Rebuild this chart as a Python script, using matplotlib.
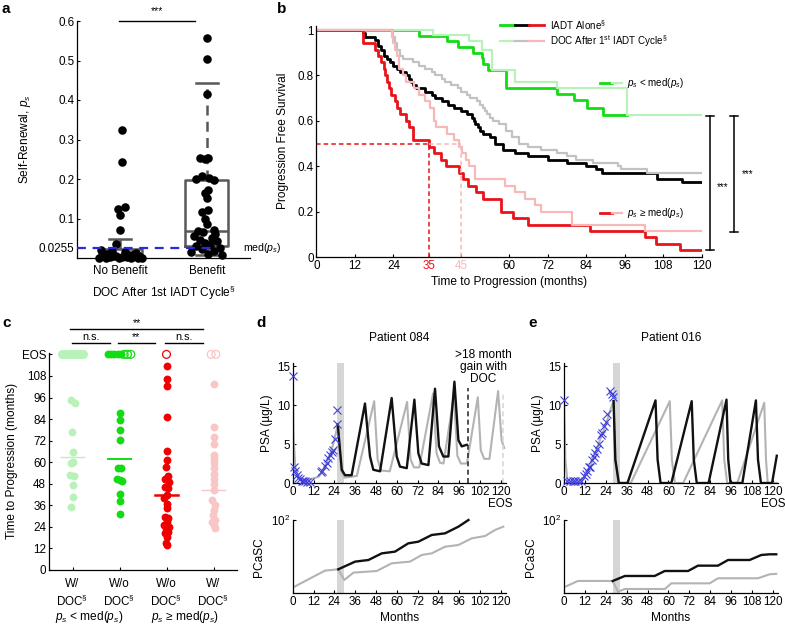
import matplotlib
matplotlib.use('Agg')
import matplotlib.pyplot as plt
import numpy as np

plt.rcParams['font.family'] = ['Liberation Sans', 'DejaVu Sans']
plt.rcParams['font.size'] = 8.6
plt.rcParams['mathtext.fontset'] = 'custom'
plt.rcParams['mathtext.rm'] = 'Liberation Sans'
plt.rcParams['mathtext.it'] = 'Liberation Sans:italic'
plt.rcParams['mathtext.bf'] = 'Liberation Sans:bold'

FS = 8.6   # label font size
TFS = 8.4  # tick font size
LFS = 7.1  # in-plot legend font size

# ---------------- data: panel a ----------------
a_categories = ['No Benefit', 'Benefit']
a_nb_vals = [0.325, 0.243, 0.130, 0.125, 0.108, 0.072, 0.035, 0.020, 0.018, 0.015,
             0.012, 0.010, 0.008, 0.006, 0.005, 0.004, 0.003, 0.003, 0.002, 0.002,
             0.001, 0.001, 0.001, 0.000, 0.000, 0.000, 0.004, 0.006, 0.009]
a_nb_jit = [0.02, 0.02, 0.05, -0.03, 0.00, 0.00, -0.05, -0.22, -0.10, 0.05,
            0.18, -0.15, 0.10, -0.05, 0.22, -0.20, 0.02, 0.14, -0.12, 0.08,
            -0.24, 0.20, -0.02, -0.16, 0.12, 0.25, -0.08, 0.06, 0.16]
a_b_vals = [0.557, 0.503, 0.415, 0.253, 0.252, 0.250, 0.208, 0.202, 0.200, 0.198,
            0.172, 0.165, 0.153, 0.121, 0.116, 0.100, 0.086, 0.072, 0.068, 0.065,
            0.060, 0.055, 0.050, 0.046, 0.042, 0.038, 0.034, 0.030, 0.026, 0.022,
            0.018, 0.014, 0.010, 0.008]
a_b_jit = [0.00, 0.00, 0.00, -0.08, 0.02, -0.02, -0.05, 0.03, -0.12, 0.08,
           0.02, -0.02, 0.00, 0.02, -0.05, -0.02, 0.00, 0.08, -0.10, -0.04,
           0.10, -0.15, 0.06, -0.08, 0.12, -0.02, 0.04, -0.12, 0.15, -0.06,
           0.08, -0.18, 0.02, 0.18]
a_box_whislo = [0.000, 0.008]
a_box_q1 = [0.002, 0.030]
a_box_med = [0.004, 0.068]
a_box_q3 = [0.022, 0.197]
a_box_whishi = [0.048, 0.443]
a_median_ps = 0.0255
a_yticks = [0.0255, 0.1, 0.2, 0.3, 0.4, 0.5, 0.6]
a_yticklabels = ['0.0255', '0.1', '0.2', '0.3', '0.4', '0.5', '0.6']

# ---------------- data: panel b (Kaplan-Meier) ----------------
km_green_t = [0, 32.0, 40.6, 44.2, 48.9, 51.5, 52.0, 53.6, 59.0, 74.9, 80.1, 84.2, 89.4, 96.6]
km_green_s = [1.0, 0.975, 0.950, 0.925, 0.900, 0.875, 0.850, 0.825, 0.743, 0.720, 0.690, 0.655, 0.625, 0.625]
km_lgreen_t = [0, 36.4, 47.5, 51.5, 54.6, 61.9, 74.9, 96.6, 120]
km_lgreen_s = [1.0, 0.977, 0.950, 0.910, 0.822, 0.772, 0.743, 0.625, 0.625]
km_black_t = [0, 14.6, 15.2, 18.3, 19.3, 20, 21, 22, 23, 24, 25, 26, 28, 29, 29.5, 30, 31, 34, 36,
              37, 39, 41, 43, 45, 47, 48.5, 49, 49.5, 50.5, 51, 52, 54, 55.5, 58, 62, 66, 72, 78,
              84, 87, 89, 106, 114, 120]
km_black_s = [1, .986, .971, .957, .929, .914, .886, .871, .857, .843, .829, .814, .800, .786, .771,
              .757, .743, .729, .714, .700, .686, .671, .657, .643, .629, .614, .600, .586, .571,
              .557, .543, .529, .500, .471, .457, .443, .429, .414, .400, .386, .371, .343, .329, .329]
km_gray_t = [0, 24, 24.5, 25, 26, 27, 30, 32, 34, 36, 37, 39, 40, 42, 44, 45, 47, 48, 50, 51, 52,
             52.5, 53, 54, 55, 57, 59, 61, 63, 66, 70, 75, 78, 81, 86, 94, 95, 103, 120]
km_gray_s = [1, .971, .943, .914, .886, .871, .857, .843, .829, .814, .800, .786, .771, .757, .743,
             .729, .714, .700, .686, .671, .657, .643, .629, .614, .600, .586, .557, .529, .500,
             .486, .471, .457, .443, .429, .414, .400, .386, .371, .371]
km_red_t = [0, 14.6, 18.3, 19.3, 20, 21, 21.5, 22, 22.6, 23.3, 24.6, 25.2, 26, 27.8, 28.8, 30,
            30.2, 35, 36.8, 38.8, 40.3, 44.3, 45.6, 47.3, 49.8, 51.8, 57.5, 61.3, 66, 85.2,
            102.3, 105.9, 113.2, 120]
km_red_s = [1, .943, .914, .886, .857, .829, .800, .771, .743, .714, .686, .657, .629, .600, .571,
            .543, .514, .486, .457, .429, .400, .371, .343, .314, .286, .257, .200, .171, .143,
            .114, .086, .057, .029, .029]
km_pink_t = [0, 23.5, 24, 24.5, 25, 25.8, 27, 28, 30.5, 32, 34, 35.5, 36.5, 37.3, 40.8, 43, 44.5,
             45.5, 46.5, 47.5, 49.5, 58.8, 61.9, 65, 68, 70, 79.5, 102.5, 120]
km_pink_s = [1, .971, .943, .914, .886, .829, .800, .771, .743, .714, .686, .657, .600, .571, .543,
             .514, .486, .457, .429, .400, .343, .314, .286, .257, .229, .200, .143, .114, .114]
b_median_red = 35
b_median_pink = 45
b_xticks = [0, 12, 24, 35, 45, 60, 72, 84, 96, 108, 120]
b_yticks = [0, 0.2, 0.4, 0.6, 0.8, 1.0]
b_yticklabels = ['0', '0.2', '0.4', '0.6', '0.8', '1']

# ---------------- data: panel c ----------------
c_eos = 120
c_g1_vals = [94.4, 93.1, 76.9, 65.7, 60.2, 59.6, 52.8, 52.2, 47.2, 40.4, 35.2]
c_g1_jit = [-0.03, 0.05, -0.02, 0.00, 0.02, -0.04, -0.05, 0.03, 0.00, 0.00, -0.03]
c_g1_eos_jit = [-0.22, -0.15, -0.08, -0.02, 0.04, 0.10, 0.16, 0.22]
c_g2_vals = [87.4, 83.3, 77.8, 72.6, 57.0, 56.5, 50.4, 50.0, 49.6, 42.2, 38.5, 30.9]
c_g2_jit = [0.00, 0.00, 0.00, 0.00, -0.03, 0.03, -0.05, 0.00, 0.05, 0.00, 0.00, 0.00]
c_g2_eos_jit_filled = [-0.25, -0.18, -0.11, -0.04, 0.03]
c_g2_eos_jit_open = [0.10, 0.17, 0.24]
c_g3_vals = [113.3, 106.5, 102.2, 85.0, 66.1, 61.1, 57.4, 52.2, 50.9, 49.1, 46.3, 45.4, 41.7,
             40.2, 37.0, 34.3, 29.6, 28.7, 26.9, 25.0, 24.1, 23.1, 21.3, 20.4, 18.5, 14.8, 13.9]
c_g3_jit = [0.00, 0.00, 0.00, 0.00, 0.00, 0.00, -0.02, 0.03, -0.04, 0.05, -0.03, 0.04, 0.00,
            -0.05, 0.02, 0.00, -0.04, 0.04, 0.00, -0.05, 0.05, -0.02, 0.03, -0.04, 0.02, -0.02, 0.02]
c_g3_eos_jit = [0.0]
c_g4_vals = [103.7, 79.6, 74.1, 70.4, 63.9, 62.0, 59.3, 56.5, 53.7, 50.9, 48.1, 44.4, 38.9,
             36.1, 33.3, 30.6, 27.8, 26.9, 25.0, 23.1]
c_g4_jit = [0.00, 0.00, 0.00, 0.00, 0.00, 0.00, 0.00, 0.00, 0.00, 0.00, 0.00, 0.00, -0.03,
            0.03, 0.00, -0.02, 0.03, -0.04, 0.00, 0.04]
c_g4_eos_jit = [-0.05, 0.05]
c_means = [63.1, 62.0, 41.7, 44.4]
c_yticks = [0, 12, 24, 36, 48, 60, 72, 84, 96, 108, 120]
c_yticklabels = ['0', '12', '24', '36', '48', '60', '72', '84', '96', '108', 'EOS']
c_xticklabels = ['W/\nDOC$^{\\S}$', 'W/o\nDOC$^{\\S}$', 'W/o\nDOC$^{\\S}$', 'W/\nDOC$^{\\S}$']

# ---------------- data: panel d (patient 084) ----------------
d_obs_t = [0.4, 1.0, 1.3, 2.3, 3.3, 4.2, 5.2, 6.2, 7.1, 8.1, 10.0, 16.5, 17.0, 18.6, 19.5,
           20.4, 21.3, 22.5, 23.4, 24.2, 25.3, 25.7]
d_obs_psa = [13.7, 2.1, 1.5, 1.0, 0.7, 0.5, 0.3, 0.2, 0.2, 0.15, 0.1, 1.4, 1.6, 2.2, 2.6,
             3.2, 3.6, 4.0, 4.2, 5.7, 7.6, 9.4]
d_pre_t = [0, 0.5, 1.5, 3, 5, 8, 12, 15, 17, 19, 21, 23, 24.5, 26]
d_pre_psa = [13.7, 6.0, 2.0, 0.8, 0.4, 0.35, 0.6, 0.8, 1.4, 2.3, 3.3, 4.7, 6.0, 7.5]
d_iadt_t = [26, 28.3, 30.2, 34, 41.7, 44.6, 46.5, 50.4, 57.1, 60, 61.9, 65.8, 70.2, 72.5, 74.4,
            78.3, 82.1, 84.4, 86.9, 89.8, 93.3, 95.6, 97.5, 100.4]
d_iadt_psa = [7.5, 1.7, 1.0, 1.0, 10.2, 3.4, 1.7, 1.5, 10.9, 3.4, 2.1, 1.9, 10.7, 3.8, 2.5,
              2.3, 12.1, 4.7, 3.4, 3.4, 13.0, 5.5, 4.7, 4.9]
d_doc_t = [26, 28, 30, 37, 47, 49, 51, 56, 66, 68, 70, 73, 81, 83, 85, 87, 93, 95, 97, 100.5,
           106.8, 108.5, 110.5, 113.5, 118.5, 120.5, 122]
d_doc_psa = [7.5, 1.5, 0.7, 0.9, 10.5, 3.0, 1.6, 1.5, 10.4, 3.0, 2.0, 2.0, 11.5, 3.8, 2.6, 2.5,
             11.3, 3.5, 2.5, 2.5, 11.0, 4.2, 3.1, 3.1, 11.8, 5.5, 4.5]
d_doc_window = [25.7, 29.5]
d_end_iadt = 101
d_end_doc = 121.5
d_end_iadt_psa = 12.2
d_end_doc_psa = 11.7
d_sc_doc_t = [0, 18.6, 26.3, 29.8, 35, 48.5, 57.1, 67.7, 74.4, 80.2, 87.9, 95.6, 103.3, 111,
              116.7, 121.5]
d_sc_doc = [1.43, 4.15, 4.52, 2.31, 3.66, 4.06, 6.58, 7.31, 11.1, 12.3, 18.7, 20.8, 31.6, 36.6,
            53.4, 65.8]
d_sc_iadt_t = [26.3, 36, 43.7, 51.4, 59, 66.7, 72.5, 80.2, 87.9, 95.6, 101.4]
d_sc_iadt = [4.52, 7.31, 8.11, 12.3, 13.7, 23.1, 25.6, 39.0, 43.3, 65.8, 100]
d_xticks = [0, 12, 24, 36, 48, 60, 72, 84, 96, 108, 120]
d_xticklabels = ['0', '12', '24', '36', '48', '60', '72', '84', '96', '102', '120']

# ---------------- data: panel e (patient 016) ----------------
e_obs_t = [0, 2, 3.5, 5, 6.5, 8, 9.5, 11.3, 12.5, 13.2, 14.2, 15, 16, 17.1, 18.1, 19, 20, 21,
           21.9, 22.9, 23.9, 24.9, 26.4, 27.8, 28.3]
e_obs_psa = [10.6, 0.2, 0.3, 0.2, 0.3, 0.3, 0.2, 0.9, 1.2, 1.6, 2.1, 2.0, 3.0, 3.3, 3.8, 4.3,
             5.0, 6.2, 6.4, 7.3, 7.8, 8.9, 11.8, 11.4, 11.0]
e_pre_t = [0, 0.8, 2, 10, 12, 15, 18, 21, 24, 27, 28.5]
e_pre_psa = [10.6, 3.0, 0.1, 0.1, 0.8, 2.2, 3.9, 5.7, 7.5, 9.6, 10.5]
e_iadt_t = [28.5, 29.5, 31.5, 36.5, 52.6, 53.8, 55.5, 61.7, 73.4, 74.6, 76.3, 83.1, 93.4, 94.4,
            95.7, 102.5, 110.3, 111.5, 113.2, 119.6, 122.3]
e_iadt_psa = [10.5, 3.0, 0, 0, 10.6, 3.0, 0, 0, 10.5, 3.0, 0, 0, 10.7, 3.0, 0, 0, 10.6, 3.0, 0,
              0, 3.5]
e_doc_t = [28.5, 29.5, 31.5, 38.4, 60.8, 62.0, 63.7, 68.5, 90.9, 92.1, 93.8, 99.6, 115.1, 116.1,
           117.1, 122.3]
e_doc_psa = [10.5, 3.0, 0, 0, 10.5, 3.0, 0, 0, 10.6, 3.0, 0, 0, 10.3, 3.0, 0, 0]
e_doc_window = [28.0, 32.2]
e_sc_doc_t = [0, 8, 28, 31, 35, 58, 61.7, 83.7, 88.5, 111.5, 118.2, 122]
e_sc_doc = [1.46, 2.17, 2.17, 1.11, 1.31, 1.31, 1.87, 1.87, 2.57, 2.57, 3.3, 3.4]
e_sc_iadt_t = [28, 35, 52.1, 57.9, 71.3, 77, 88.5, 94.3, 106.7, 113.4, 118.2, 122]
e_sc_iadt = [2.17, 2.97, 2.97, 4.06, 4.06, 5.68, 5.68, 8.11, 8.11, 11.1, 11.6, 11.6]
e_xticklabels = ['0', '12', '24', '36', '48', '60', '72', '84', '96', '108', '120']

# ---------------- styles ----------------
GREEN = '#14dc14'
LGREEN = '#b8f2b8'
GRAY = '#c2c2c2'
RED = '#e8141a'
PINK = '#f6b8b8'
PSA_GRAY = '#b3b3b3'
BLUE = '#4040d8'
BAND = '#d6d6d6'

W, H = 785, 625
fig = plt.figure(figsize=(W / 100, H / 100), dpi=100)


def px_axes(left, top, right, bottom):
    return fig.add_axes([left / W, 1 - bottom / H, (right - left) / W, (bottom - top) / H])


def style(ax):
    for sp in ['top', 'right']:
        ax.spines[sp].set_visible(False)
    for sp in ['left', 'bottom']:
        ax.spines[sp].set_linewidth(0.9)
    ax.tick_params(direction='in', length=2.5, width=0.8, labelsize=TFS, pad=2)


# ================= panel a =================
ax = px_axes(77, 21, 250, 258)
style(ax)
ax.set_xlim(0.5, 2.5)
ax.set_ylim(0, 0.6)
stats = []
for i in range(2):
    stats.append(dict(whislo=a_box_whislo[i], q1=a_box_q1[i], med=a_box_med[i],
                      q3=a_box_q3[i], whishi=a_box_whishi[i], fliers=[]))
bc = '#585858'
ax.bxp(stats, positions=[1, 2], widths=0.5, showfliers=False,
       boxprops=dict(color=bc, lw=1.8),
       whiskerprops=dict(color=bc, lw=1.8, linestyle=(0, (4, 2.5))),
       capprops=dict(color=bc, lw=1.8),
       medianprops=dict(color=bc, lw=1.8))
ax.scatter(1 + np.array(a_nb_jit), a_nb_vals, s=38, color='black', zorder=3, clip_on=False, lw=0)
ax.scatter(2 + np.array(a_b_jit), a_b_vals, s=38, color='black', zorder=3, clip_on=False, lw=0)
ax.plot([0.5, 2.07], [a_median_ps, a_median_ps], color='#2a2ad8', lw=1.6,
        dashes=(4, 3), zorder=4)
ax.text(2.42, a_median_ps, 'med($p_s$)', va='center', ha='left', fontsize=7.6, clip_on=False)
ax.plot([0.99, 1.86], [0.6, 0.6], color='black', lw=1.0, clip_on=False)
ax.text(1.42, 0.613, '***', ha='center', va='bottom', fontsize=7.5)
ax.set_xticks([1, 2])
ax.set_xticklabels(a_categories)
ax.tick_params(axis='x', length=0, pad=5)
ax.set_yticks(a_yticks)
ax.set_yticklabels(a_yticklabels)
ax.set_ylabel('Self-Renewal, $p_s$', fontsize=FS, labelpad=4)
ax.set_xlabel('DOC After 1st IADT Cycle$^{\\S}$', fontsize=FS, labelpad=5)

# ================= panel b =================
ax = px_axes(316.3, 25.5, 701.7, 257)
style(ax)
ax.set_xlim(0, 120)
ax.set_ylim(0, 1.02)
ax.step(km_green_t, km_green_s, where='post', color=GREEN, lw=2.0)
ax.step(km_lgreen_t, km_lgreen_s, where='post', color=LGREEN, lw=1.6)
ax.step(km_black_t, km_black_s, where='post', color='black', lw=2.0)
ax.step(km_gray_t, km_gray_s, where='post', color=GRAY, lw=1.6)
ax.step(km_red_t, km_red_s, where='post', color=RED, lw=2.0)
ax.step(km_pink_t, km_pink_s, where='post', color=PINK, lw=1.6)
ax.plot([0, b_median_red], [0.5, 0.5], color=RED, lw=1.1, dashes=(3, 2))
ax.plot([b_median_red, b_median_red], [0, 0.5], color=RED, lw=1.1, dashes=(3, 2))
ax.plot([b_median_red, b_median_pink], [0.5, 0.5], color=PINK, lw=1.1, dashes=(3, 2))
ax.plot([b_median_pink, b_median_pink], [0, 0.5], color=PINK, lw=1.1, dashes=(3, 2))
ax.set_xticks(b_xticks)
ax.set_xticklabels([str(v) for v in b_xticks])
labs = ax.get_xticklabels()
labs[b_xticks.index(b_median_red)].set_color(RED)
labs[b_xticks.index(b_median_pink)].set_color(PINK)
ax.set_yticks(b_yticks)
ax.set_yticklabels(b_yticklabels)
ax.set_xlabel('Time to Progression (months)', fontsize=FS, labelpad=3)
ax.set_ylabel('Progression Free Survival', fontsize=FS, labelpad=6)
# legend
tr = ax.transAxes
ax.plot([0.477, 0.515], [1.002, 1.002], color=GREEN, lw=2.0, transform=tr, clip_on=False)
ax.plot([0.515, 0.553], [1.002, 1.002], color='black', lw=2.0, transform=tr, clip_on=False)
ax.plot([0.553, 0.591], [1.002, 1.002], color=RED, lw=2.0, transform=tr, clip_on=False)
ax.text(0.606, 1.002, 'IADT Alone$^{\\S}$', transform=tr, va='center', ha='left', fontsize=LFS)
ax.plot([0.477, 0.515], [0.933, 0.933], color=LGREEN, lw=1.6, transform=tr, clip_on=False)
ax.plot([0.515, 0.553], [0.933, 0.933], color=GRAY, lw=1.6, transform=tr, clip_on=False)
ax.plot([0.553, 0.591], [0.933, 0.933], color=PINK, lw=1.6, transform=tr, clip_on=False)
ax.text(0.606, 0.933, 'DOC After 1$^{\\rm st}$ IADT Cycle$^{\\S}$', transform=tr, va='center',
        ha='left', fontsize=LFS)
ax.plot([0.736, 0.766], [0.753, 0.753], color=GREEN, lw=2.0, transform=tr)
ax.plot([0.766, 0.792], [0.753, 0.753], color=LGREEN, lw=1.6, transform=tr)
ax.text(0.805, 0.753, '$p_s$ < med($p_s$)', transform=tr, va='center', ha='left', fontsize=LFS)
ax.plot([0.736, 0.766], [0.189, 0.189], color=RED, lw=2.0, transform=tr)
ax.plot([0.766, 0.792], [0.189, 0.189], color=PINK, lw=1.6, transform=tr)
ax.text(0.805, 0.189, '$p_s$ \u2265 med($p_s$)', transform=tr, va='center', ha='left', fontsize=LFS)
# significance brackets
for xb, y0, y1, xt, yt in [(122.6, 0.62, 0.03, 124.6, 0.31), (130.1, 0.62, 0.11, 132.6, 0.367)]:
    ax.plot([xb, xb], [y1, y0], color='black', lw=1.1, clip_on=False)
    ax.plot([xb - 1.3, xb + 1.3], [y0, y0], color='black', lw=1.1, clip_on=False)
    ax.plot([xb - 1.3, xb + 1.3], [y1, y1], color='black', lw=1.1, clip_on=False)
    ax.text(xt, yt, '***', ha='left', va='center', fontsize=7, clip_on=False)

# ================= panel c =================
ax = px_axes(49, 352.6, 237, 570)
style(ax)
ax.set_xlim(0.5, 4.5)
ax.set_ylim(0, 121)
S = 32
ax.scatter(1 + np.array(c_g1_jit), c_g1_vals, s=S, color=LGREEN, lw=0, zorder=3)
ax.scatter(1 + np.array(c_g1_eos_jit), [c_eos] * len(c_g1_eos_jit), s=S, color=LGREEN,
           lw=0.8, edgecolor=LGREEN, zorder=3, clip_on=False)
ax.scatter(2 + np.array(c_g2_jit), c_g2_vals, s=S, color=GREEN, lw=0, zorder=3)
ax.scatter(2 + np.array(c_g2_eos_jit_filled), [c_eos] * len(c_g2_eos_jit_filled), s=S,
           color=GREEN, lw=0, zorder=3, clip_on=False)
ax.scatter(2 + np.array(c_g2_eos_jit_open), [c_eos] * len(c_g2_eos_jit_open), s=S,
           facecolor='none', edgecolor=GREEN, lw=0.9, zorder=3, clip_on=False)
ax.scatter(3 + np.array(c_g3_jit), c_g3_vals, s=S, color='#f00000', lw=0, zorder=3)
ax.scatter(3 + np.array(c_g3_eos_jit), [c_eos] * len(c_g3_eos_jit), s=S, facecolor='none',
           edgecolor='#f00000', lw=0.9, zorder=3, clip_on=False)
ax.scatter(4 + np.array(c_g4_jit), c_g4_vals, s=S, color='#f9c6c6', lw=0, zorder=3)
ax.scatter(4 + np.array(c_g4_eos_jit), [c_eos] * len(c_g4_eos_jit), s=S, facecolor='none',
           edgecolor='#f9c6c6', lw=0.9, zorder=3, clip_on=False)
mean_cols = [LGREEN, GREEN, '#f00000', '#f9c6c6']
mean_lw = [1.0, 1.4, 1.8, 1.0]
for i, m in enumerate(c_means):
    ax.plot([i + 1 - 0.25, i + 1 + 0.25], [m, m], color=mean_cols[i], lw=mean_lw[i], zorder=4)
ax.set_xticks([1, 2, 3, 4])
ax.set_xticklabels(c_xticklabels, linespacing=1.25)
ax.tick_params(axis='x', pad=6)
ax.set_yticks(c_yticks)
ax.set_yticklabels(c_yticklabels)
ax.set_ylabel('Time to Progression (months)', fontsize=FS, labelpad=3)
for x0, x1, y, txt in [(0.95, 3.78, 134.1, '**'), (0.98, 1.80, 126.3, 'n.s.'),
                       (1.97, 2.75, 126.3, '**'), (2.97, 3.78, 126.3, 'n.s.')]:
    ax.plot([x0, x1], [y, y], color='black', lw=1.0, clip_on=False)
    ax.text((x0 + x1) / 2, y + 0.6, txt, ha='center', va='bottom', fontsize=7.8, clip_on=False)
ax.text(1.35, -0.215, '$p_s$ < med($p_s$)', transform=ax.get_xaxis_transform(),
        ha='center', va='center', fontsize=FS)
ax.text(3.4, -0.215, '$p_s$ \u2265 med($p_s$)', transform=ax.get_xaxis_transform(),
        ha='center', va='center', fontsize=FS)


# ================= panels d, e =================
def psa_panel(left, right, obs_t, obs_psa, pre_t, pre_psa, iadt_t, iadt_psa, doc_t, doc_psa,
              window, ticklabels, title):
    ax = px_axes(left, 363, right, 483)
    style(ax)
    ax.set_xlim(0, 123)
    ax.set_ylim(0, 15.4)
    ax.axvspan(window[0], window[1], color=BAND, lw=0, zorder=0)
    ax.plot(pre_t, pre_psa, color=PSA_GRAY, lw=1.5, zorder=2)
    ax.plot(doc_t, doc_psa, color=PSA_GRAY, lw=1.5, zorder=2)
    ax.plot(iadt_t, iadt_psa, color='#111111', lw=1.7, zorder=3)
    ax.plot(obs_t, obs_psa, ls='none', marker='x', color=BLUE, ms=5.5, mew=0.8, zorder=4,
            clip_on=False)
    ax.set_xticks(d_xticks)
    labs = list(ticklabels)
    labs[-1] = labs[-1] + '\nEOS'
    ax.set_xticklabels(labs, linespacing=1.05)
    ax.set_yticks([0, 5, 10, 15])
    ax.set_ylabel('PSA (\u00b5g/L)', fontsize=FS, labelpad=3)
    ax.set_title(title, fontsize=FS, pad=16)
    return ax


def sc_panel(left, right, doc_t, doc_v, iadt_t, iadt_v, window, ticklabels):
    ax = px_axes(left, 520, right, 593.3)
    style(ax)
    ax.set_xlim(0, 123)
    ax.set_yscale('log')
    ax.set_ylim(1, 100)
    ax.axvspan(window[0], window[1], color=BAND, lw=0, zorder=0)
    ax.plot(doc_t, doc_v, color=PSA_GRAY, lw=1.5, zorder=2)
    ax.plot(iadt_t, iadt_v, color='#111111', lw=1.7, zorder=3, clip_on=False)
    ax.set_yticks([100])
    ax.set_yticklabels(['$10^2$'])
    ax.minorticks_off()
    ax.set_xticks(d_xticks)
    ax.set_xticklabels(ticklabels)
    ax.set_ylabel('PCaSC', fontsize=FS, labelpad=4)
    ax.set_xlabel('Months', fontsize=FS, labelpad=3)
    return ax


axd = psa_panel(292.7, 505.9, d_obs_t, d_obs_psa, d_pre_t, d_pre_psa, d_iadt_t, d_iadt_psa,
                d_doc_t, d_doc_psa, d_doc_window, d_xticklabels, 'Patient 084')
axd.plot([d_end_iadt, d_end_iadt], [0, d_end_iadt_psa], color='#333333', lw=1.2, dashes=(3, 2))
axd.plot([d_end_doc, d_end_doc], [0, d_end_doc_psa], color='#d8d8d8', lw=1.2, dashes=(3, 2),
         clip_on=False)
axd.text(110, 12.6, '>18 month\ngain with\nDOC', ha='center', va='bottom', fontsize=FS,
         linespacing=1.0, clip_on=False)
sc_panel(292.7, 505.9, d_sc_doc_t, d_sc_doc, d_sc_iadt_t, d_sc_iadt, d_doc_window, d_xticklabels)

psa_panel(564, 778, e_obs_t, e_obs_psa, e_pre_t, e_pre_psa, e_iadt_t, e_iadt_psa,
          e_doc_t, e_doc_psa, e_doc_window, e_xticklabels, 'Patient 016')
sc_panel(564, 778, e_sc_doc_t, e_sc_doc, e_sc_iadt_t, e_sc_iadt, e_doc_window, e_xticklabels)

# panel letters
for x, y, l in [(2, 2, 'a'), (277, 2, 'b'), (2, 316, 'c'), (256, 316, 'd'), (528, 316, 'e')]:
    fig.text(x / W, 1 - y / H, l, fontsize=11, fontweight='bold', va='top', ha='left')

fig.savefig('out.png', dpi=100)
